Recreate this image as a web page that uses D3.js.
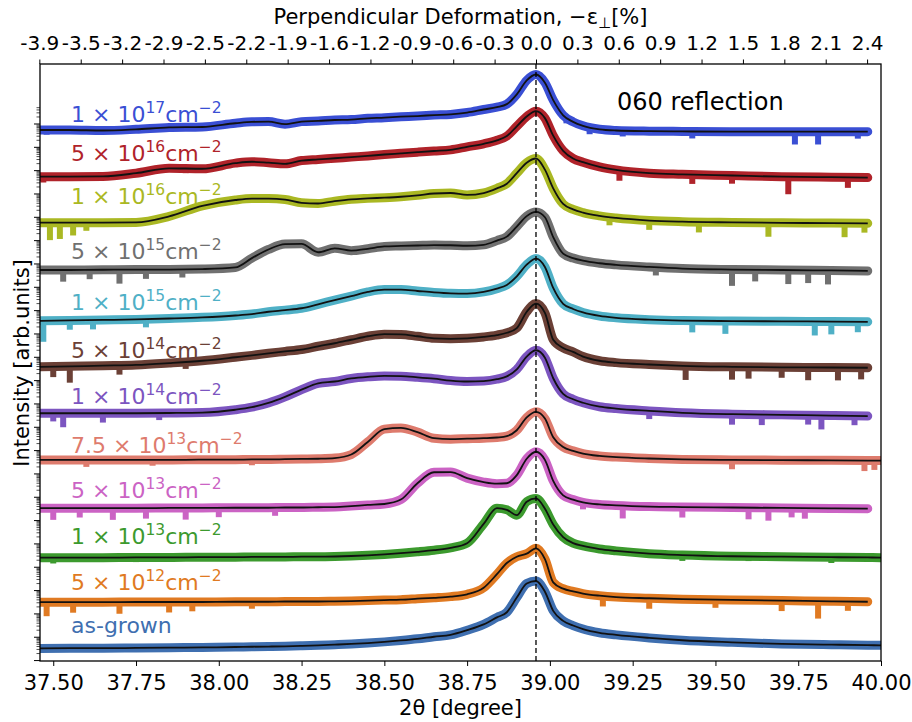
<!DOCTYPE html>
<html>
<head>
<meta charset="utf-8">
<script src="https://cdn.jsdelivr.net/npm/d3@7"></script>
<style>
  body { margin: 0; background: #fff; }
  svg { display: block; font-family: "DejaVu Sans", sans-serif; }
</style>
</head>
<body>
<div id="chart"></div>
<script>
// 2theta grid (degree) the curves were read at
const twoTheta = [37.46, 37.55, 37.65, 37.75, 37.85, 37.95, 38.05, 38.10, 38.15, 38.20,
  38.25, 38.30, 38.35, 38.40, 38.45, 38.50, 38.55, 38.60, 38.65, 38.70,
  38.75, 38.80, 38.84, 38.87, 38.90, 38.93, 38.958, 38.985, 39.01, 39.04,
  39.07, 39.10, 39.15, 39.20, 39.30, 39.40, 39.55, 39.70, 39.85, 39.96, 40.00];

// log10 intensity above each curve's background (decades)
const i1e17 = [0.07,0.07,0.05,0.10,0.18,0.20,0.36,0.42,0.43,0.32,0.43,0.46,0.50,0.52,0.57,0.60,0.64,0.67,0.71,0.74,0.82,0.95,1.05,1.18,1.60,2.20,2.45,2.10,1.35,0.70,0.42,0.25,0.10,0.05,0.02,0.01,0,0,0,0,null];
const i5e16 = [0.04,0.04,0.05,0.19,0.40,0.38,0.62,0.68,0.64,0.59,0.73,0.78,0.83,0.88,0.93,0.99,1.04,1.09,1.14,1.19,1.32,1.45,1.60,1.78,2.20,2.62,2.85,2.55,1.80,1.15,0.82,0.66,0.46,0.33,0.19,0.14,0.09,0.04,0.02,0.00,null];
const i1e16 = [0.03,0.03,0.03,0.04,0.30,0.75,1.00,1.06,1.06,1.02,0.88,0.85,0.95,1.03,1.07,1.10,1.14,1.20,1.28,1.30,1.22,1.30,1.50,1.70,2.15,2.60,2.78,2.30,1.50,0.83,0.60,0.46,0.32,0.23,0.12,0.07,0.04,0.02,0.01,0.00,null];
const i5e15 = [0.04,0.04,0.05,0.06,0.06,0.08,0.15,0.55,0.92,1.15,1.16,0.80,0.97,0.87,0.95,1.05,1.07,1.09,1.11,1.10,1.08,1.12,1.30,1.47,1.90,2.35,2.53,2.30,1.45,0.74,0.55,0.44,0.33,0.26,0.17,0.10,0.06,0.04,0.02,0.00,null];
const i1e15 = [0.04,0.06,0.08,0.10,0.14,0.19,0.27,0.33,0.43,0.50,0.58,0.75,0.93,1.10,1.28,1.38,1.38,1.32,1.26,1.22,1.21,1.28,1.42,1.58,1.95,2.45,2.71,2.35,1.45,0.77,0.55,0.40,0.25,0.17,0.09,0.05,0.03,0.02,0.01,0.00,null];
const i5e14 = [0.04,0.06,0.09,0.12,0.20,0.30,0.45,0.53,0.62,0.70,0.78,0.92,1.05,1.20,1.35,1.44,1.43,1.35,1.26,1.24,1.26,1.32,1.40,1.50,1.70,2.40,2.75,2.35,1.20,0.85,0.68,0.48,0.30,0.22,0.14,0.08,0.04,0.02,0.01,0.00,null];
const i1e14 = [0.12,0.12,0.12,0.12,0.13,0.15,0.27,0.38,0.56,0.82,1.13,1.40,1.48,1.61,1.68,1.72,1.71,1.66,1.60,1.52,1.48,1.50,1.58,1.70,2.00,2.55,2.82,2.50,1.62,0.95,0.72,0.57,0.40,0.32,0.22,0.14,0.08,0.05,0.02,0.00,null];
const i75e13 = [0.03,0.03,0.03,0.03,0.03,0.04,0.04,0.05,0.05,0.06,0.07,0.08,0.11,0.26,0.80,1.35,1.40,1.22,0.96,0.92,0.94,0.96,0.99,1.05,1.30,1.85,2.09,1.80,1.00,0.58,0.42,0.30,0.20,0.15,0.09,0.05,0.03,0.02,0.01,0.00,0.00];
const i5e13 = [0.03,0.03,0.03,0.03,0.04,0.04,0.05,0.05,0.05,0.06,0.06,0.07,0.08,0.12,0.17,0.21,0.40,1.10,1.57,1.58,1.32,1.15,1.08,1.10,1.45,2.15,2.45,2.10,1.20,0.58,0.40,0.28,0.19,0.15,0.10,0.08,0.06,0.04,0.02,0.01,null];
const i1e13 = [0.00,0.00,0.00,0.01,0.01,0.02,0.02,0.03,0.03,0.03,0.04,0.04,0.05,0.07,0.10,0.14,0.19,0.25,0.32,0.42,0.62,1.45,2.12,2.05,1.82,2.40,2.54,2.10,1.42,0.88,0.62,0.50,0.37,0.29,0.17,0.11,0.06,0.04,0.02,0.01,0.00];
const i5e12 = [0.00,0.00,0.00,0.01,0.01,0.01,0.02,0.02,0.02,0.03,0.03,0.03,0.04,0.05,0.07,0.09,0.11,0.15,0.19,0.24,0.34,0.62,1.20,1.68,1.95,2.08,2.31,1.85,0.85,0.58,0.46,0.37,0.28,0.22,0.17,0.13,0.10,0.07,0.04,0.02,null];
const iAsGrown = [0.07,0.08,0.08,0.09,0.10,0.11,0.13,0.14,0.15,0.16,0.18,0.20,0.23,0.26,0.30,0.35,0.41,0.48,0.57,0.65,0.85,1.10,1.40,1.62,2.25,2.85,2.96,2.50,1.68,1.25,1.05,0.90,0.74,0.65,0.52,0.42,0.33,0.26,0.23,0.21,0.20];

// visible downward spikes in the measured data: [2theta, depth below the curve in decades]
const d1e17 = [[37.48,0.2],[39.05,0.25],[39.12,0.3],[39.22,0.25],[39.43,0.3],[39.74,0.55],[39.81,0.55],[39.93,0.3]];
const d5e16 = [[37.47,0.25],[37.9,0.2],[39.21,0.45],[39.43,0.4],[39.55,0.35],[39.72,0.75],[39.9,0.45]];
const d1e16 = [[37.49,0.75],[37.52,0.7],[37.56,0.55],[37.6,0.35],[39.18,0.35],[39.3,0.4],[39.45,0.45],[39.66,0.6],[39.89,0.6],[39.95,0.4]];
const d5e15 = [[37.53,0.5],[37.61,0.4],[37.7,0.6],[37.78,0.4],[37.89,0.35],[39.32,0.35],[39.55,0.7],[39.62,0.5],[39.72,0.6],[39.78,0.55],[39.84,0.6]];
const d1e15 = [[37.47,0.9],[37.55,0.4],[37.62,0.4],[37.78,0.35],[39.43,0.5],[39.53,0.55],[39.8,0.6],[39.85,0.55],[39.93,0.45]];
const d5e14 = [[37.5,0.45],[37.55,0.7],[37.7,0.4],[37.9,0.3],[39.41,0.6],[39.55,0.55],[39.6,0.5],[39.7,0.45],[39.78,0.55],[39.87,0.55],[39.94,0.5]];
const d1e14 = [[37.5,0.35],[37.53,0.6],[37.65,0.4],[37.82,0.3],[39.3,0.35],[39.55,0.45],[39.64,0.45],[39.78,0.4],[39.82,0.6],[39.92,0.4]];
const d75e13 = [[37.6,0.3],[37.8,0.25],[38.1,0.25],[39.55,0.4],[39.95,0.45],[39.98,0.4]];
const d5e13 = [[37.5,0.5],[37.58,0.4],[37.68,0.5],[37.78,0.45],[37.9,0.5],[38.0,0.4],[38.17,0.35],[39.1,0.3],[39.22,0.55],[39.4,0.45],[39.6,0.5],[39.66,0.55],[39.73,0.4],[39.77,0.45]];
const d1e13 = [[37.5,0.25],[37.75,0.2],[39.4,0.25],[39.6,0.2],[39.85,0.25]];
const d5e12 = [[37.48,0.6],[37.56,0.45],[37.7,0.5],[37.85,0.45],[37.92,0.4],[38.1,0.3],[39.16,0.45],[39.3,0.45],[39.5,0.35],[39.7,0.45],[39.81,0.75],[39.9,0.4]];
const dAsGrown = [];

// stacking offsets of the curves (decades)
const offsetDecades = [22.65, 20.68, 18.72, 16.68, 14.50, 12.53, 10.46, 8.55, 6.48, 4.39, 2.48, 0.43];
const fluenceMantissa = ["1", "5", "1", "5", "1", "5", "1", "7.5", "5", "1", "5", null];
const fluenceExponent = ["17", "16", "16", "15", "15", "14", "14", "13", "13", "13", "12", null];
const colors = ["#3a4fd4", "#b0232a", "#aab823", "#707070", "#4fb0c6", "#6b4036",
  "#7c55c0", "#de7b6d", "#cb63c4", "#3c9a2e", "#e07a22", "#3f6fb0"];
const labelLift = [10, 17, 19, 12, 12, 10, 12, 8, 11, 14, 12, 17];

const braggAngle = 38.958;
const bottomTicks = [37.5, 37.75, 38.0, 38.25, 38.5, 38.75, 39.0, 39.25, 39.5, 39.75, 40.0];
const topTickLabels = ["-3.9", "-3.5", "-3.2", "-2.9", "-2.5", "-2.2", "-1.9", "-1.6", "-1.2",
  "-0.9", "-0.6", "-0.3", "0.0", "0.3", "0.6", "0.9", "1.2", "1.5", "1.8", "2.1", "2.4"];
const topTickStep = 0.125;

const series = [i1e17, i5e16, i1e16, i5e15, i1e15, i5e14, i1e14, i75e13, i5e13, i1e13, i5e12, iAsGrown];
const dips = [d1e17, d5e16, d1e16, d5e15, d1e15, d5e14, d1e14, d75e13, d5e13, d1e13, d5e12, dAsGrown];

const width = 912, height = 722;
const plot = { left: 40, right: 881, top: 64, bottom: 661 };

const svg = d3.select("#chart").append("svg")
  .attr("width", width)
  .attr("height", height);

const x = d3.scaleLinear().domain([37.46, 40.0]).range([plot.left, plot.right]);
const y = d3.scaleLog()
  .domain([Math.pow(10, -0.04), Math.pow(10, 25.55)])
  .range([plot.bottom, plot.top]);

// curve level at an arbitrary 2theta, so a spike hangs from the curve
const bisect = d3.bisector(d => d).left;
function levelAt(vals, t) {
  const j = Math.max(1, Math.min(twoTheta.length - 1, bisect(twoTheta, t)));
  const a = vals[j - 1], b = vals[j] == null ? a : vals[j];
  const f = (t - twoTheta[j - 1]) / (twoTheta[j] - twoTheta[j - 1]);
  return a + (b - a) * Math.max(0, Math.min(1, f));
}

svg.append("clipPath").attr("id", "plotClip")
  .append("rect")
  .attr("x", plot.left).attr("y", plot.top)
  .attr("width", plot.right - plot.left).attr("height", plot.bottom - plot.top);

const curves = svg.append("g").attr("clip-path", "url(#plotClip)");

series.forEach((vals, i) => {
  const pts = twoTheta.map((t, j) => [t, vals[j]]);
  const line = d3.line()
    .defined(d => d[1] != null)
    .x(d => x(d[0]))
    .y(d => y(Math.pow(10, offsetDecades[i] + d[1])))
    .curve(d3.curveMonotoneX);

  // measured data (thick coloured band + spikes)
  curves.append("path")
    .attr("d", line(pts))
    .attr("fill", "none")
    .attr("stroke", colors[i])
    .attr("stroke-width", 9)
    .attr("stroke-linecap", "round")
    .attr("stroke-linejoin", "round");

  curves.append("g")
    .selectAll("line")
    .data(dips[i])
    .enter().append("line")
    .attr("x1", d => x(d[0])).attr("x2", d => x(d[0]))
    .attr("y1", d => y(Math.pow(10, offsetDecades[i] + levelAt(vals, d[0]))))
    .attr("y2", d => y(Math.pow(10, offsetDecades[i] + levelAt(vals, d[0]) - d[1])))
    .attr("stroke", colors[i])
    .attr("stroke-width", 6);

  // fit
  curves.append("path")
    .attr("d", line(pts))
    .attr("fill", "none")
    .attr("stroke", "#111")
    .attr("stroke-width", 1.8);
});

// peak position of the unirradiated layer
curves.append("line")
  .attr("x1", x(braggAngle)).attr("x2", x(braggAngle))
  .attr("y1", plot.top).attr("y2", plot.bottom)
  .attr("stroke", "#000")
  .attr("stroke-width", 1.3)
  .attr("stroke-dasharray", "5,3");

// curve labels
series.forEach((vals, i) => {
  const ty = y(Math.pow(10, offsetDecades[i])) - labelLift[i];
  const t = svg.append("text")
    .attr("x", 71).attr("y", ty)
    .attr("fill", colors[i])
    .attr("font-size", 22);
  if (fluenceMantissa[i] == null) {
    t.text("as-grown");
    return;
  }
  t.append("tspan").text(fluenceMantissa[i] + " \u00d7 10");
  t.append("tspan").attr("dy", -9).attr("font-size", 15.5).text(fluenceExponent[i]);
  t.append("tspan").attr("dy", 9).text("cm");
  t.append("tspan").attr("dy", -9).attr("font-size", 15.5).text("\u22122");
});

svg.append("text")
  .attr("x", 617).attr("y", 110)
  .attr("font-size", 24)
  .text("060 reflection");

// axes
const bottomAxis = d3.axisBottom(x)
  .tickValues(bottomTicks)
  .tickFormat(d3.format(".2f"))
  .tickSize(5)
  .tickPadding(9);

svg.append("g")
  .attr("transform", `translate(0,${plot.bottom})`)
  .call(bottomAxis)
  .call(g => g.select(".domain").remove())
  .call(g => g.selectAll("text").attr("font-size", 21).attr("font-family", "DejaVu Sans").attr("fill", "#000"));

const topTickPos = topTickLabels.map((d, i) => braggAngle + (i - 12) * topTickStep);
const topAxis = d3.axisTop(x)
  .tickValues(topTickPos)
  .tickFormat((d, i) => topTickLabels[i])
  .tickSize(4.5)
  .tickPadding(9.5);

svg.append("g")
  .attr("transform", `translate(0,${plot.top})`)
  .call(topAxis)
  .call(g => g.select(".domain").remove())
  .call(g => g.selectAll("text").attr("font-size", 20).attr("font-family", "DejaVu Sans").attr("fill", "#000"));

// log minor ticks on the intensity axis
const majorTicks = [], minorTicks = [];
for (let k = 0; k <= 23; k++) {
  for (let m = 1; m <= 9; m++) {
    const v = m * Math.pow(10, k);
    if (Math.log10(v) > 23.7) continue;
    (m === 1 ? majorTicks : minorTicks).push(v);
  }
}
svg.append("g")
  .attr("transform", `translate(${plot.left},0)`)
  .call(d3.axisLeft(y).tickValues(majorTicks).tickFormat("").tickSize(6))
  .call(g => g.select(".domain").remove());
svg.append("g")
  .attr("transform", `translate(${plot.left},0)`)
  .call(d3.axisLeft(y).tickValues(minorTicks).tickFormat("").tickSize(3.5))
  .call(g => g.select(".domain").remove())
  .call(g => g.selectAll("line").attr("stroke-width", 0.7));

svg.append("rect")
  .attr("x", plot.left).attr("y", plot.top)
  .attr("width", plot.right - plot.left).attr("height", plot.bottom - plot.top)
  .attr("fill", "none")
  .attr("stroke", "#000")
  .attr("stroke-width", 1.3);

// axis titles
svg.append("text")
  .attr("x", (plot.left + plot.right) / 2).attr("y", 715)
  .attr("text-anchor", "middle")
  .attr("font-size", 21)
  .text("2\u03b8 [degree]");

svg.append("text")
  .attr("transform", "translate(29,363) rotate(-90)")
  .attr("text-anchor", "middle")
  .attr("font-size", 21)
  .text("Intensity [arb.units]");

const title = svg.append("text")
  .attr("x", (plot.left + plot.right) / 2).attr("y", 24)
  .attr("text-anchor", "middle")
  .attr("font-size", 21);
title.append("tspan").text("Perpendicular Deformation, \u2212\u03b5");
title.append("tspan").attr("dy", 4).attr("font-size", 15).text("\u22a5");
title.append("tspan").attr("dy", -4).text("[%]");
</script>
</body>
</html>
